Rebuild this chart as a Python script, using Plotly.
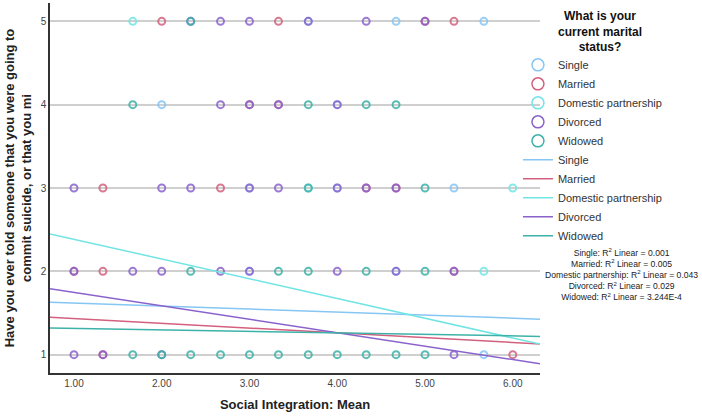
import plotly.graph_objects as go

# ---------------- data ----------------
groups = ["Single", "Married", "Domestic partnership", "Divorced", "Widowed"]
colors = ["#86c6f4", "#d2607e", "#72e4e4", "#8a62cc", "#3db2a8"]

single_x = [4.67, 5.67, 2.00, 5.33, 5.67, 3.67, 4.00, 3.00, 4.00, 3.00, 4.67]
single_y = [5, 5, 4, 3, 1, 5, 4, 3, 3, 2, 2]

married_x = [2.00, 3.33, 5.33, 5.00, 3.00, 3.33, 1.33, 2.67, 4.33, 4.67, 1.00, 1.33, 5.33, 6.00, 1.33]
married_y = [5, 5, 5, 5, 4, 4, 3, 3, 3, 3, 2, 2, 2, 1, 1]

domestic_x = [1.67, 3.67, 6.00, 5.67]
domestic_y = [5, 3, 3, 2]

divorced_x = [2.67, 3.00, 3.67, 4.33, 5.00, 2.33,
              2.67, 3.33, 4.00, 3.00,
              1.00, 2.00, 2.33, 3.00, 3.33, 4.00, 4.33, 4.67,
              1.00, 1.67, 2.00, 2.67, 3.00, 4.00, 4.67, 5.33,
              1.00, 1.33, 2.00, 5.33]
divorced_y = [5, 5, 5, 5, 5, 5,
              4, 4, 4, 4,
              3, 3, 3, 3, 3, 3, 3, 3,
              2, 2, 2, 2, 2, 2, 2, 2,
              1, 1, 1, 1]

widowed_x = [2.33, 1.67, 3.67, 4.33, 4.67, 3.67, 5.00,
             2.33, 3.33, 3.67, 4.33, 5.00,
             1.67, 2.00, 2.33, 2.67, 3.00, 3.33, 3.67, 4.00, 4.33, 4.67, 5.00]
widowed_y = [5, 4, 4, 4, 4, 3, 3,
             2, 2, 2, 2, 2,
             1, 1, 1, 1, 1, 1, 1, 1, 1, 1, 1]

# linear fit coefficients (intercept, slope)
fit_intercept = [1.656, 1.492, 2.622, 1.907, 1.333]
fit_slope = [-0.0364, -0.0577, -0.237, -0.161, -0.018]
r2_text = ["0.001", "0.005", "0.043", "0.029", "3.244E-4"]

x_range = [0.727, 6.31]
y_range = [0.78, 5.22]
x_ticks = [1, 2, 3, 4, 5, 6]
x_ticklabels = ["1.00", "2.00", "3.00", "4.00", "5.00", "6.00"]
y_ticks = [1, 2, 3, 4, 5]

series_x = [single_x, married_x, domestic_x, divorced_x, widowed_x]
series_y = [single_y, married_y, domestic_y, divorced_y, widowed_y]

FONT = "Liberation Sans, Arial, sans-serif"

fig = go.Figure()

# scatter points
for g, c, xs, ys in zip(groups, colors, series_x, series_y):
    fig.add_trace(go.Scatter(
        x=xs, y=ys, mode="markers", showlegend=False, hoverinfo="skip",
        marker=dict(symbol="circle-open", size=7, color=c, opacity=0.85,
                    line=dict(width=2, color=c)),
    ))

# legend entries for markers
for g, c in zip(groups, colors):
    fig.add_trace(go.Scatter(
        x=[None], y=[None], mode="markers", name=g, legendgroup="m",
        marker=dict(symbol="circle-open", size=12, color=c, line=dict(width=1.5, color=c)),
    ))

# fit lines
for g, c, b0, b1 in zip(groups, colors, fit_intercept, fit_slope):
    fig.add_trace(go.Scatter(
        x=x_range, y=[b0 + b1 * xv for xv in x_range], mode="lines", name=g,
        legendgroup="l", line=dict(color=c, width=1.5), hoverinfo="skip",
    ))

r2_lines = [f"{g}: R<sup>2</sup> Linear = {r}" for g, r in zip(groups, r2_text)]

fig.update_layout(
    width=702, height=419,
    margin=dict(l=50, r=162, t=3, b=46),
    paper_bgcolor="white", plot_bgcolor="white",
    font=dict(family=FONT, color="#333333", size=11),
    xaxis=dict(
        range=x_range, tickvals=x_ticks, ticktext=x_ticklabels,
        showgrid=False, zeroline=False, showline=True, linecolor="#333333", linewidth=1.5,
        ticks="", tickfont=dict(size=10, color="#444444"),
        title=dict(text="Social Integration: Mean", font=dict(size=13, color="#222222",
                   weight="bold"), standoff=12),
    ),
    yaxis=dict(
        range=y_range, tickvals=y_ticks,
        showgrid=True, gridcolor="#cfcfcf", gridwidth=1.5, zeroline=False,
        showline=True, linecolor="#333333", linewidth=1.5,
        ticks="", tickfont=dict(size=10, color="#444444"),
        title=dict(text="Have you ever told someone that you were going to<br>commit suicide, or that you mi",
                   font=dict(size=13, color="#222222", weight="bold"), standoff=6),
    ),
    legend=dict(
        x=0.955, xanchor="left", y=0.872, yanchor="top",
        bgcolor="rgba(0,0,0,0)", traceorder="grouped", tracegroupgap=0,
        font=dict(size=11, color="#333333"),
        itemwidth=30,
    ),
    annotations=[
        dict(
            text="<b>What is your<br>current marital<br>status?</b>", xref="paper", yref="paper",
            x=1.122, y=0.99, xanchor="center", yanchor="top", showarrow=False,
            align="center", font=dict(size=12, color="#111111"),
        ),
        dict(
            text="<br>".join(r2_lines), xref="paper", yref="paper",
            x=1.166, y=0.265, xanchor="center", yanchor="middle", showarrow=False,
            align="center", font=dict(size=8.6, color="#222222"),
        ),
    ],
)

fig.write_html("out.html")
